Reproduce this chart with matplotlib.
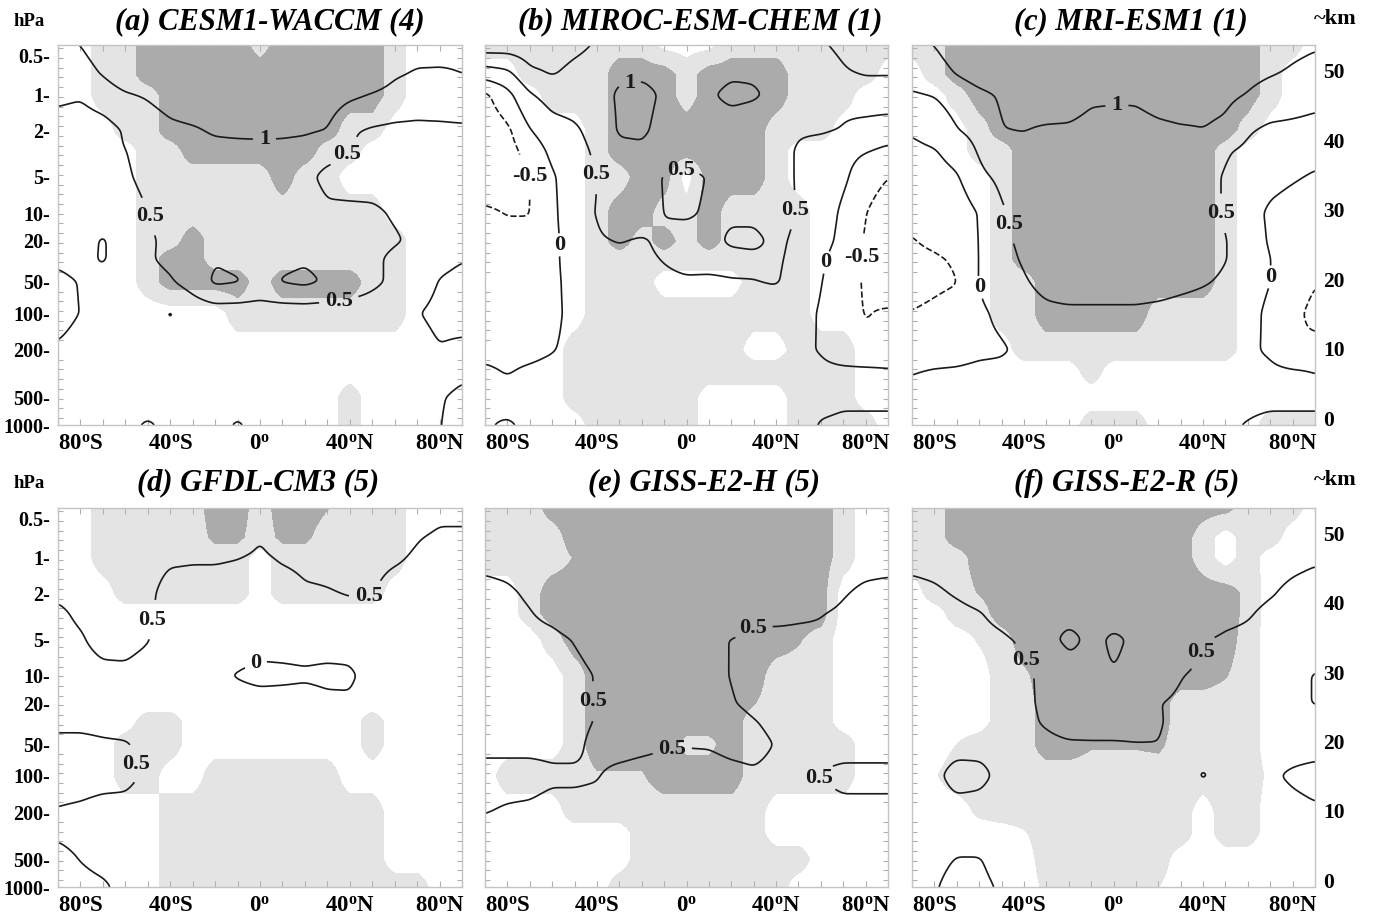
import numpy as np
import matplotlib
matplotlib.use("Agg")
import matplotlib.pyplot as plt
from matplotlib.ticker import MultipleLocator, FixedLocator

plt.rcParams['font.family'] = ['Liberation Serif', 'DejaVu Serif']
plt.rcParams['font.weight'] = 'bold'
plt.rcParams['mathtext.fontset'] = 'custom'
plt.rcParams['mathtext.rm'] = 'Liberation Serif:bold'
plt.rcParams['mathtext.it'] = 'Liberation Serif:bold'
plt.rcParams['mathtext.bf'] = 'Liberation Serif:bold'

# ---------------- grid -----------------
LATS = [-90, -80, -70, -60, -50, -40, -30, -20, -10, 0, 10, 20, 30, 40, 50, 60, 70, 80, 90]
LEVELS_HPA = [1000, 500, 300, 200, 100, 50, 30, 20, 10, 5, 3, 2, 1, 0.7, 0.4]

# approximate altitude (km) used for the vertical axis
ALT_HPA = [1000, 500, 200, 100, 50, 20, 10, 5, 2, 1, 0.5, 0.4]
ALT_KM = [-1.0, 3.0, 9.8, 15.1, 19.6, 25.5, 29.5, 34.7, 41.4, 46.5, 52.2, 54.1]

P_TICKS = [0.5, 1, 2, 5, 10, 20, 50, 100, 200, 500, 1000]
P_TICK_LABELS = ['0.5-', '1-', '2-', '5-', '10-', '20-', '50-', '100-', '200-', '500-', '1000-']
KM_TICKS = [0, 10, 20, 30, 40, 50]
LAT_TICKS = [-80, -40, 0, 40, 80]
LAT_LABELS = ['80$^{\\mathrm{o}}$S', '40$^{\\mathrm{o}}$S', '0$^{\\mathrm{o}}$',
              '40$^{\\mathrm{o}}$N', '80$^{\\mathrm{o}}$N']
LINE_LEVELS = [-0.5, 0, 0.5, 1.0]

TITLES = ["(a) CESM1-WACCM (4)", "(b) MIROC-ESM-CHEM (1)", "(c) MRI-ESM1 (1)",
          "(d) GFDL-CM3 (5)", "(e) GISS-E2-H (5)", "(f) GISS-E2-R (5)"]

# ---------------- panel (a) -----------------
A_LINES = [
    [0.1, 0.15, 0.15, 0.1, -0.05, 0.1, 0.15, 0.15, -0.05, 0.15, 0.15, 0.15, 0.15, 0.15, 0.15, 0.15, 0.1, 0.01, -0.1],
    [0.15, 0.2, 0.2, 0.2, 0.2, 0.2, 0.2, 0.2, 0.2, 0.2, 0.2, 0.2, 0.2, 0.2, 0.2, 0.15, 0.1, 0.02, -0.05],
    [0.15, 0.2, 0.2, 0.2, 0.2, 0.2, 0.2, 0.2, 0.2, 0.2, 0.2, 0.2, 0.2, 0.2, 0.2, 0.2, 0.15, 0.1, 0.05],
    [0.05, 0.15, 0.2, 0.2, 0.2, 0.2, 0.2, 0.2, 0.2, 0.2, 0.2, 0.2, 0.2, 0.2, 0.2, 0.2, 0.15, 0.02, 0.08],
    [-0.15, 0.01, 0.15, 0.2, 0.2, -0.05, 0.2, 0.25, 0.25, 0.25, 0.25, 0.25, 0.25, 0.25, 0.25, 0.2, 0.02, -0.1, -0.15],
    [-0.1, 0.02, 0.15, 0.25, 0.35, 0.45, 0.7, 1.08, 1.03, 0.85, 1.03, 1.1, 0.95, 0.8, 0.6, 0.4, 0.2, -0.02, -0.1],
    [0.08, 0.15, -0.05, 0.25, 0.45, 0.6, 0.8, 0.97, 0.9, 0.8, 0.9, 0.95, 0.85, 0.75, 0.6, 0.4, 0.2, 0.1, 0.02],
    [0.2, 0.2, -0.05, 0.25, 0.45, 0.58, 0.75, 0.8, 0.8, 0.8, 0.8, 0.8, 0.75, 0.7, 0.65, 0.55, 0.4, 0.3, 0.2],
    [0.25, 0.2, 0.2, 0.35, 0.49, 0.65, 0.75, 0.8, 0.8, 0.85, 0.85, 0.8, 0.6, 0.6, 0.58, 0.45, 0.35, 0.3, 0.3],
    [0.2, -0.03, 0.2, 0.45, 0.6, 0.75, 0.8, 0.85, 0.85, 0.9, 0.85, 0.65, 0.35, 0.3, 0.3, 0.3, 0.3, 0.3, 0.3],
    [0.25, 0.3, 0.42, 0.49, 0.65, 0.8, 0.85, 0.88, 0.88, 0.9, 0.88, 0.85, 0.7, 0.51, 0.35, 0.3, 0.3, 0.3, 0.3],
    [0.3, 0.25, 0.3, 0.55, 0.75, 0.9, 0.95, 1.05, 1.08, 1.08, 1.08, 1.05, 0.99, 0.55, 0.45, 0.4, 0.4, 0.38, 0.4],
    [0.6, 0.55, 0.75, 0.95, 1.05, 1.2, 1.3, 1.3, 1.3, 1.3, 1.3, 1.3, 1.25, 1.1, 0.97, 0.85, 0.75, 0.85, 0.9],
    [0.75, 0.85, 1.02, 1.3, 1.4, 1.5, 1.5, 1.5, 1.5, 1.5, 1.5, 1.5, 1.5, 1.4, 1.3, 1.05, 0.95, 0.97, 1.0],
    [0.9, 1.02, 1.2, 1.4, 1.5, 1.6, 1.6, 1.6, 1.6, 1.6, 1.6, 1.6, 1.6, 1.5, 1.4, 1.3, 1.2, 1.1, 1.05],
]
A_SHADE = [
    [0, 0, 0, 0, 0, 0, 0, 0, 0, 0, 0, 0, 0, 1, 0, 0, 0, 0, 0],
    [0, 0, 0, 0, 0, 0, 0, 0, 0, 0, 0, 0, 0, 1, 0, 0, 0, 0, 0],
    [0, 0, 0, 0, 0, 0, 0, 0, 0, 0, 0, 0, 0, 0, 0, 0, 0, 0, 0],
    [0, 0, 0, 0, 0, 0, 0, 0, 0, 0, 0, 0, 0, 0, 0, 0, 0, 0, 0],
    [0, 0, 0, 0, 0, 0, 0, 0, 1, 1, 1, 1, 1, 1, 1, 1, 0, 0, 0],
    [0, 0, 0, 0, 1, 2, 2, 2, 2, 1, 2, 2, 2, 2, 1, 1, 0, 0, 0],
    [0, 0, 0, 0, 1, 2, 2, 1, 1, 1, 1, 1, 1, 1, 1, 1, 0, 0, 0],
    [0, 0, 0, 0, 1, 1, 2, 1, 1, 1, 1, 1, 1, 1, 1, 1, 0, 0, 0],
    [0, 0, 0, 0, 1, 1, 1, 1, 1, 1, 1, 1, 1, 1, 1, 0, 0, 0, 0],
    [0, 0, 0, 0, 1, 1, 1, 1, 1, 1, 2, 1, 1, 0, 0, 0, 0, 0, 0],
    [0, 0, 0, 0, 1, 1, 2, 2, 2, 2, 2, 2, 1, 1, 0, 0, 0, 0, 0],
    [0, 0, 0, 1, 1, 2, 2, 2, 2, 2, 2, 2, 2, 1, 1, 0, 0, 0, 0],
    [0, 0, 1, 1, 1, 2, 2, 2, 2, 2, 2, 2, 2, 2, 2, 1, 0, 0, 0],
    [0, 0, 1, 1, 2, 2, 2, 2, 2, 2, 2, 2, 2, 2, 2, 1, 0, 0, 0],
    [0, 0, 1, 1, 2, 2, 2, 2, 2, 1, 2, 2, 2, 2, 2, 1, 0, 0, 0],
]

# ---------------- panel (b) -----------------
B_LINES = [
    [0.02, -0.03, 0.05, 0.05, 0.1, 0.1, 0.1, 0.1, 0.1, 0.1, 0.1, 0.1, 0.1, 0.1, 0.1, -0.02, -0.05, -0.05, -0.05],
    [0.05, 0.1, 0.1, 0.15, 0.15, 0.15, 0.15, 0.15, 0.15, 0.15, 0.15, 0.15, 0.15, 0.15, 0.1, 0.08, 0.05, 0.05, 0.05],
    [0.05, -0.02, 0.05, 0.1, 0.15, 0.2, 0.2, 0.2, 0.2, 0.2, 0.2, 0.2, 0.2, 0.15, 0.15, 0.1, 0.1, 0.1, 0.05],
    [-0.1, -0.12, -0.1, -0.02, 0.1, 0.2, 0.25, 0.25, 0.25, 0.25, 0.25, 0.2, 0.2, 0.15, 0.1, -0.03, -0.3, -0.45, -0.35],
    [-0.15, -0.2, -0.2, -0.1, 0.12, 0.25, 0.3, 0.3, 0.3, 0.3, 0.3, 0.3, 0.3, 0.25, 0.2, -0.05, -0.35, -0.52, -0.45],
    [-0.2, -0.25, -0.25, -0.1, 0.15, 0.3, 0.35, 0.38, 0.42, 0.45, 0.45, 0.48, 0.49, 0.53, 0.35, 0.02, -0.3, -0.55, -0.75],
    [-0.25, -0.3, -0.3, -0.1, 0.2, 0.35, 0.4, 0.42, 0.52, 0.62, 0.6, 0.6, 0.58, 0.55, 0.4, 0.08, -0.25, -0.55, -0.85],
    [-0.3, -0.35, -0.35, -0.1, 0.2, 0.45, 0.52, 0.45, 0.6, 0.65, 0.6, 0.45, 0.42, 0.58, 0.42, 0.2, -0.15, -0.55, -0.8],
    [-0.42, -0.52, -0.52, -0.1, 0.3, 0.52, 0.8, 0.8, 0.48, 0.45, 0.55, 0.55, 0.58, 0.65, 0.48, 0.3, -0.1, -0.49, -0.75],
    [-0.8, -0.75, -0.52, -0.05, 0.25, 0.49, 0.8, 0.85, 0.45, 0.4, 0.52, 0.8, 0.8, 0.7, 0.45, 0.3, 0.1, -0.3, -0.49],
    [-0.9, -0.7, -0.3, 0.12, 0.3, 0.6, 0.9, 0.95, 0.85, 0.7, 0.75, 0.8, 0.75, 0.7, 0.45, 0.3, 0.15, 0.03, -0.1],
    [-0.8, -0.6, -0.02, 0.3, 0.42, 0.7, 1.05, 1.05, 0.9, 0.8, 0.8, 0.8, 0.75, 0.65, 0.55, 0.55, 0.48, 0.35, 0.25],
    [-0.6, -0.15, 0.45, 0.7, 0.75, 0.85, 1.05, 1.1, 0.95, 0.8, 0.95, 1.1, 1.05, 0.9, 0.75, 0.6, 0.6, 0.75, 0.8],
    [0.2, 0.35, 0.9, 1.02, 0.9, 0.85, 0.95, 0.95, 0.9, 0.8, 0.85, 0.95, 0.95, 0.85, 0.8, 0.8, 0.95, 1.02, 1.01],
    [1.4, 1.35, 1.3, 1.2, 1.1, 0.98, 0.85, 0.8, 0.75, 0.7, 0.75, 0.8, 0.85, 0.9, 0.92, 0.97, 1.1, 1.3, 1.4],
]
B_SHADE = [
    [0, 0, 0, 0, 0, 1, 1, 1, 1, 1, 0, 0, 0, 0, 1, 1, 1, 1, 0],
    [0, 0, 0, 0, 1, 1, 1, 1, 1, 1, 0, 0, 0, 0, 1, 1, 1, 0, 0],
    [0, 0, 0, 0, 1, 1, 1, 1, 1, 1, 1, 1, 1, 1, 1, 1, 1, 0, 0],
    [0, 0, 0, 0, 1, 1, 1, 1, 1, 1, 1, 1, 0, 0, 1, 1, 1, 0, 0],
    [0, 0, 0, 0, 0, 1, 1, 1, 1, 1, 1, 1, 1, 1, 1, 0, 0, 0, 0],
    [0, 0, 0, 0, 0, 1, 1, 1, 0, 0, 0, 0, 1, 1, 1, 0, 0, 0, 0],
    [0, 0, 0, 0, 0, 1, 1, 1, 1, 1, 1, 1, 1, 1, 1, 0, 0, 0, 0],
    [0, 0, 0, 0, 0, 1, 2, 1, 2, 1, 2, 1, 1, 1, 1, 0, 0, 0, 0],
    [0, 0, 0, 0, 0, 1, 2, 2, 1, 1, 2, 1, 1, 1, 1, 0, 0, 0, 0],
    [0, 0, 0, 0, 0, 1, 1, 2, 2, 0, 2, 2, 2, 1, 0, 0, 0, 0, 0],
    [0, 0, 0, 0, 0, 1, 2, 2, 2, 2, 2, 2, 2, 1, 0, 0, 0, 0, 0],
    [0, 0, 0, 0, 0, 1, 2, 2, 2, 2, 2, 2, 2, 1, 1, 1, 0, 0, 0],
    [0, 0, 0, 1, 1, 1, 2, 2, 2, 1, 2, 2, 2, 2, 1, 1, 1, 0, 0],
    [0, 0, 1, 1, 1, 1, 2, 2, 2, 1, 2, 2, 2, 2, 1, 1, 1, 1, 0],
    [1, 1, 1, 1, 1, 1, 1, 1, 0, 0, 0, 1, 1, 1, 1, 1, 1, 1, 1],
]

# ---------------- panel (c) -----------------
C_LINES = [
    [0.05, 0.05, 0.05, 0.05, 0.05, 0.05, 0.05, 0.05, 0.05, 0.05, 0.05, 0.05, 0.05, 0.05, 0.05, -0.02, -0.1, -0.1, -0.1],
    [0.1, 0.1, 0.1, 0.1, 0.1, 0.1, 0.1, 0.1, 0.1, 0.1, 0.1, 0.1, 0.1, 0.1, 0.1, 0.1, 0.1, 0.1, 0.1],
    [-0.02, 0.03, 0.05, 0.1, 0.1, 0.2, 0.2, 0.2, 0.2, 0.2, 0.2, 0.2, 0.2, 0.2, 0.2, 0.15, 0.1, 0.05, -0.01],
    [-0.3, -0.25, -0.2, -0.1, -0.05, 0.1, 0.2, 0.2, 0.2, 0.2, 0.2, 0.2, 0.2, 0.2, 0.15, 0.1, -0.08, -0.51, -0.4],
    [-0.48, -0.4, -0.3, -0.08, 0.1, 0.3, 0.39, 0.39, 0.39, 0.39, 0.39, 0.35, 0.29, 0.25, 0.2, 0.15, -0.1, -0.4, -0.6],
    [-0.7, -0.6, -0.52, 0.03, 0.3, 0.45, 0.65, 0.8, 0.8, 0.8, 0.8, 0.75, 0.65, 0.55, 0.42, 0.2, 0.01, -0.3, -0.48],
    [-0.6, -0.55, -0.45, 0.02, 0.35, 0.55, 0.85, 0.85, 0.85, 0.85, 0.85, 0.85, 0.8, 0.7, 0.52, 0.25, 0.01, -0.3, -0.4],
    [-0.52, -0.42, -0.3, 0.01, 0.4, 0.6, 0.85, 0.85, 0.85, 0.85, 0.85, 0.85, 0.8, 0.7, 0.52, 0.25, -0.05, -0.3, -0.52],
    [-0.4, -0.35, -0.3, 0.03, 0.45, 0.65, 0.85, 0.85, 0.85, 0.85, 0.85, 0.85, 0.8, 0.7, 0.45, 0.2, -0.08, -0.2, -0.3],
    [-0.25, -0.2, -0.05, 0.4, 0.6, 0.85, 0.85, 0.85, 0.85, 0.85, 0.85, 0.85, 0.8, 0.7, 0.45, 0.3, 0.15, 0.05, -0.05],
    [-0.11, -0.03, 0.2, 0.55, 0.85, 0.88, 0.85, 0.85, 0.8, 0.78, 0.8, 0.82, 0.85, 0.85, 0.55, 0.4, 0.3, 0.25, 0.15],
    [0.05, 0.2, 0.48, 0.65, 0.99, 1.01, 0.94, 0.92, 0.82, 0.8, 0.82, 0.9, 0.95, 0.99, 0.91, 0.55, 0.4, 0.38, 0.35],
    [0.45, 0.52, 0.7, 0.9, 1.05, 1.2, 1.3, 1.3, 1.1, 1.08, 1.08, 1.2, 1.25, 1.15, 1.1, 0.98, 0.85, 0.75, 0.65],
    [0.7, 0.85, 1.01, 1.2, 1.3, 1.4, 1.4, 1.4, 1.4, 1.4, 1.4, 1.4, 1.4, 1.3, 1.2, 1.1, 1.02, 0.95, 0.88],
    [0.95, 1.02, 1.2, 1.4, 1.5, 1.5, 1.5, 1.5, 1.5, 1.5, 1.5, 1.5, 1.5, 1.5, 1.4, 1.3, 1.2, 1.1, 1.05],
]
C_SHADE = [
    [0, 0, 0, 0, 0, 0, 0, 0, 1, 1, 1, 0, 0, 0, 0, 0, 1, 1, 1],
    [0, 0, 0, 0, 0, 0, 0, 0, 0, 0, 0, 0, 0, 0, 0, 0, 0, 0, 0],
    [0, 0, 0, 0, 0, 0, 0, 0, 1, 0, 0, 0, 0, 0, 0, 0, 0, 0, 0],
    [0, 0, 0, 0, 0, 1, 1, 1, 1, 1, 1, 1, 1, 1, 1, 0, 0, 0, 0],
    [0, 0, 0, 0, 1, 1, 2, 2, 2, 2, 2, 1, 1, 1, 1, 0, 0, 0, 0],
    [0, 0, 0, 0, 1, 1, 2, 2, 2, 2, 2, 2, 2, 2, 1, 0, 0, 0, 0],
    [0, 0, 0, 0, 1, 2, 2, 2, 2, 2, 2, 2, 2, 2, 1, 0, 0, 0, 0],
    [0, 0, 0, 0, 1, 2, 2, 2, 2, 2, 2, 2, 2, 2, 1, 0, 0, 0, 0],
    [0, 0, 0, 0, 1, 2, 2, 2, 2, 2, 2, 2, 2, 2, 1, 0, 0, 0, 0],
    [0, 0, 0, 0, 1, 2, 2, 2, 2, 2, 2, 2, 2, 2, 1, 0, 0, 0, 0],
    [0, 0, 0, 1, 1, 2, 2, 2, 2, 2, 2, 2, 2, 2, 1, 0, 0, 0, 0],
    [0, 0, 0, 1, 2, 2, 2, 2, 2, 2, 2, 2, 2, 2, 2, 1, 0, 0, 0],
    [0, 0, 1, 2, 2, 2, 2, 2, 2, 2, 2, 2, 2, 2, 2, 2, 1, 0, 0],
    [0, 1, 2, 2, 2, 2, 2, 2, 2, 2, 2, 2, 2, 2, 2, 2, 1, 0, 0],
    [1, 1, 2, 2, 2, 2, 2, 2, 2, 2, 2, 2, 2, 2, 2, 2, 1, 1, 0],
]

# ---------------- panel (d) -----------------
D_LINES = [
    [0.6, 0.6, 0.55, 0.4, 0.3, 0.3, 0.3, 0.3, 0.3, 0.3, 0.3, 0.3, 0.3, 0.3, 0.3, 0.3, 0.3, 0.3, 0.3],
    [0.6, 0.49, 0.4, 0.35, 0.3, 0.3, 0.3, 0.3, 0.3, 0.3, 0.3, 0.3, 0.3, 0.3, 0.3, 0.3, 0.3, 0.3, 0.3],
    [0.45, 0.4, 0.35, 0.35, 0.3, 0.3, 0.3, 0.3, 0.3, 0.3, 0.3, 0.3, 0.3, 0.3, 0.3, 0.3, 0.3, 0.3, 0.3],
    [0.48, 0.45, 0.4, 0.4, 0.35, 0.3, 0.3, 0.3, 0.3, 0.3, 0.3, 0.3, 0.3, 0.3, 0.3, 0.3, 0.3, 0.3, 0.3],
    [0.62, 0.62, 0.6, 0.58, 0.45, 0.3, 0.3, 0.3, 0.3, 0.3, 0.3, 0.3, 0.3, 0.3, 0.3, 0.3, 0.3, 0.3, 0.3],
    [0.6, 0.6, 0.55, 0.53, 0.4, 0.3, 0.3, 0.3, 0.3, 0.3, 0.3, 0.3, 0.3, 0.3, 0.3, 0.3, 0.3, 0.3, 0.3],
    [0.4, 0.4, 0.38, 0.35, 0.3, 0.3, 0.3, 0.25, 0.25, 0.25, 0.25, 0.25, 0.25, 0.25, 0.3, 0.3, 0.3, 0.3, 0.3],
    [0.3, 0.3, 0.3, 0.3, 0.3, 0.3, 0.25, 0.2, 0.15, 0.15, 0.15, 0.15, 0.08, 0.05, 0.2, 0.3, 0.3, 0.3, 0.3],
    [0.35, 0.38, 0.42, 0.42, 0.35, 0.25, 0.15, 0.05, -0.02, -0.1, -0.08, -0.05, -0.08, -0.06, 0.15, 0.3, 0.3, 0.3, 0.3],
    [0.4, 0.47, 0.6, 0.62, 0.52, 0.3, 0.25, 0.2, 0.18, 0.15, 0.15, 0.15, 0.15, 0.15, 0.25, 0.3, 0.3, 0.3, 0.3],
    [0.45, 0.55, 0.6, 0.62, 0.56, 0.3, 0.25, 0.25, 0.25, 0.25, 0.25, 0.3, 0.35, 0.4, 0.4, 0.3, 0.3, 0.3, 0.3],
    [0.55, 0.6, 0.62, 0.63, 0.62, 0.3, 0.3, 0.3, 0.3, 0.3, 0.3, 0.45, 0.48, 0.52, 0.52, 0.35, 0.35, 0.35, 0.35],
    [0.62, 0.65, 0.68, 0.7, 0.7, 0.58, 0.55, 0.55, 0.51, 0.42, 0.55, 0.6, 0.6, 0.6, 0.6, 0.55, 0.45, 0.4, 0.4],
    [0.65, 0.65, 0.7, 0.7, 0.72, 0.75, 0.8, 0.8, 0.8, 0.52, 0.8, 0.8, 0.8, 0.75, 0.7, 0.65, 0.52, 0.45, 0.45],
    [0.7, 0.7, 0.75, 0.75, 0.8, 0.8, 0.85, 0.9, 0.9, 0.9, 0.9, 0.9, 0.85, 0.85, 0.8, 0.75, 0.7, 0.6, 0.6],
]
D_SHADE = [
    [0, 0, 0, 0, 0, 1, 1, 1, 1, 1, 1, 1, 1, 1, 1, 1, 1, 0, 0],
    [0, 0, 0, 0, 0, 1, 1, 1, 1, 1, 1, 1, 1, 1, 1, 0, 0, 0, 0],
    [0, 0, 0, 0, 0, 1, 1, 1, 1, 1, 1, 1, 1, 1, 1, 0, 0, 0, 0],
    [0, 0, 0, 0, 0, 1, 1, 1, 1, 1, 1, 1, 1, 1, 1, 0, 0, 0, 0],
    [0, 0, 0, 1, 1, 0, 0, 1, 1, 1, 1, 1, 1, 0, 0, 0, 0, 0, 0],
    [0, 0, 0, 1, 1, 1, 0, 0, 0, 0, 0, 0, 0, 0, 1, 0, 0, 0, 0],
    [0, 0, 0, 0, 1, 1, 0, 0, 0, 0, 0, 0, 0, 0, 1, 0, 0, 0, 0],
    [0, 0, 0, 0, 0, 0, 0, 0, 0, 0, 0, 0, 0, 0, 0, 0, 0, 0, 0],
    [0, 0, 0, 0, 0, 0, 0, 0, 0, 0, 0, 0, 0, 0, 0, 0, 0, 0, 0],
    [0, 0, 0, 0, 0, 0, 0, 0, 0, 0, 0, 0, 0, 0, 0, 0, 0, 0, 0],
    [0, 0, 0, 0, 0, 0, 0, 0, 0, 0, 0, 0, 0, 0, 0, 0, 0, 0, 0],
    [0, 0, 0, 1, 1, 1, 1, 1, 1, 0, 1, 1, 1, 1, 1, 0, 0, 0, 0],
    [0, 0, 1, 1, 1, 1, 1, 1, 1, 0, 1, 1, 1, 1, 1, 1, 0, 0, 0],
    [0, 0, 1, 1, 1, 1, 1, 1.7, 1.7, 1, 1.7, 1.7, 1, 1, 1, 1, 0, 0, 0],
    [0, 0, 1, 1, 1, 1, 1, 2, 2, 1, 2, 2, 1.6, 1, 1, 1, 0, 0, 0],
]

# ---------------- panel (e) -----------------
E_LINES = [
    [0.25, 0.25, 0.25, 0.25, 0.25, 0.25, 0.25, 0.25, 0.25, 0.25, 0.25, 0.25, 0.25, 0.25, 0.25, 0.25, 0.25, 0.25, 0.25],
    [0.3, 0.3, 0.3, 0.3, 0.3, 0.3, 0.3, 0.3, 0.3, 0.3, 0.3, 0.3, 0.3, 0.3, 0.3, 0.3, 0.3, 0.3, 0.3],
    [0.4, 0.35, 0.3, 0.3, 0.3, 0.3, 0.3, 0.3, 0.3, 0.3, 0.3, 0.3, 0.3, 0.3, 0.3, 0.3, 0.3, 0.3, 0.3],
    [0.51, 0.47, 0.45, 0.4, 0.4, 0.4, 0.35, 0.3, 0.3, 0.3, 0.3, 0.3, 0.3, 0.3, 0.3, 0.35, 0.4, 0.4, 0.4],
    [0.6, 0.6, 0.6, 0.55, 0.55, 0.52, 0.4, 0.35, 0.35, 0.35, 0.35, 0.4, 0.45, 0.4, 0.42, 0.52, 0.6, 0.6, 0.6],
    [0.42, 0.42, 0.42, 0.42, 0.42, 0.6, 0.65, 0.6, 0.53, 0.52, 0.53, 0.6, 0.62, 0.48, 0.4, 0.35, 0.35, 0.35, 0.35],
    [0.3, 0.3, 0.3, 0.3, 0.4, 0.52, 0.8, 0.8, 0.8, 0.8, 0.75, 0.65, 0.52, 0.4, 0.3, 0.3, 0.3, 0.3, 0.3],
    [0.3, 0.3, 0.3, 0.3, 0.4, 0.52, 0.8, 0.85, 0.85, 0.85, 0.7, 0.53, 0.4, 0.3, 0.3, 0.3, 0.3, 0.3, 0.3],
    [0.3, 0.3, 0.32, 0.35, 0.4, 0.52, 0.8, 0.85, 0.85, 0.85, 0.65, 0.48, 0.35, 0.3, 0.3, 0.3, 0.3, 0.3, 0.3],
    [0.35, 0.35, 0.38, 0.4, 0.52, 0.65, 0.8, 0.85, 0.85, 0.85, 0.65, 0.48, 0.4, 0.4, 0.42, 0.45, 0.45, 0.4, 0.35],
    [0.35, 0.4, 0.48, 0.6, 0.75, 0.85, 0.9, 0.9, 0.9, 0.9, 0.9, 0.9, 0.6, 0.6, 0.55, 0.51, 0.45, 0.4, 0.35],
    [0.4, 0.45, 0.55, 0.7, 0.8, 0.9, 0.9, 0.9, 0.9, 0.9, 0.9, 0.9, 0.9, 0.85, 0.75, 0.65, 0.52, 0.45, 0.42],
    [0.6, 0.62, 0.68, 0.75, 0.85, 0.9, 0.9, 0.9, 0.9, 0.9, 0.9, 0.9, 0.9, 0.85, 0.75, 0.65, 0.62, 0.6, 0.6],
    [0.65, 0.68, 0.72, 0.78, 0.85, 0.9, 0.9, 0.9, 0.9, 0.9, 0.9, 0.9, 0.9, 0.85, 0.8, 0.75, 0.7, 0.65, 0.65],
    [0.7, 0.72, 0.75, 0.8, 0.85, 0.9, 0.9, 0.9, 0.9, 0.9, 0.9, 0.9, 0.9, 0.85, 0.8, 0.75, 0.7, 0.7, 0.7],
]
E_SHADE = [
    [0, 0, 0, 0, 0, 0, 1, 1, 1, 1, 1, 1, 1, 1, 0, 0, 0, 0, 0],
    [0, 0, 0, 0, 0, 0, 0, 1, 1, 1, 1, 1, 1, 1, 1, 0, 0, 0, 0],
    [0, 0, 0, 0, 0, 0, 0, 1, 1, 1, 1, 1, 1, 0, 0, 0, 0, 0, 0],
    [0, 0, 0, 0, 1, 1, 1, 1, 1, 1, 1, 1, 1, 0, 0, 0, 0, 0, 0],
    [0, 1, 1, 1, 1, 1.4, 1.4, 1.4, 2, 2, 2, 2, 1, 1, 1, 1, 1, 0, 0],
    [0, 0, 0, 0, 1, 2, 2, 2, 2, 1.2, 1.2, 2, 1, 1, 1, 1, 1, 0, 0],
    [0, 0, 0, 0, 1, 2, 2, 2, 2, 2, 2, 2, 1, 1, 1, 1, 0, 0, 0],
    [0, 0, 0, 0, 1, 2, 2, 2, 2, 2, 2, 2, 1.55, 1, 1, 1, 0, 0, 0],
    [0, 0, 0, 0, 1, 2, 2, 2, 2, 2, 2, 2, 2, 1, 1, 1, 0, 0, 0],
    [0, 0, 0, 1, 2, 2, 2, 2, 2, 2, 2, 2, 2, 2, 1.6, 1, 0, 0, 0],
    [0, 0, 1, 2, 2, 2, 2, 2, 2, 2, 2, 2, 2, 2, 2, 2, 0, 0, 0],
    [0, 0, 1, 2, 2, 2, 2, 2, 2, 2, 2, 2, 2, 2, 2, 2, 0, 0, 0],
    [1, 1, 1, 1, 1.55, 2, 2, 2, 2, 2, 2, 2, 2, 2, 2, 2, 1, 0, 0],
    [1, 1, 1, 1, 2, 2, 2, 2, 2, 2, 2, 2, 2, 2, 2, 2, 1, 0, 0],
    [1, 1, 1, 2, 2, 2, 2, 2, 2, 2, 2, 2, 2, 2, 2, 2, 1, 0, 0],
]

# ---------------- panel (f) -----------------
F_LINES = [
    [0.35, 0.45, 0.7, 0.6, 0.45, 0.3, 0.3, 0.3, 0.3, 0.3, 0.3, 0.3, 0.3, 0.3, 0.3, 0.3, 0.3, 0.3, 0.3],
    [0.3, 0.35, 0.52, 0.52, 0.35, 0.3, 0.3, 0.3, 0.3, 0.3, 0.3, 0.3, 0.3, 0.3, 0.3, 0.3, 0.3, 0.3, 0.3],
    [0.3, 0.3, 0.3, 0.3, 0.3, 0.3, 0.3, 0.3, 0.3, 0.3, 0.3, 0.3, 0.3, 0.3, 0.3, 0.3, 0.3, 0.3, 0.3],
    [0.3, 0.32, 0.35, 0.35, 0.35, 0.3, 0.3, 0.3, 0.3, 0.3, 0.3, 0.3, 0.3, 0.3, 0.3, 0.3, 0.35, 0.4, 0.45],
    [0.35, 0.4, 0.65, 0.6, 0.4, 0.35, 0.35, 0.35, 0.35, 0.35, 0.35, 0.35, 0.38, 0.53, 0.4, 0.4, 0.45, 0.55, 0.62],
    [0.3, 0.32, 0.35, 0.38, 0.4, 0.4, 0.4, 0.45, 0.45, 0.45, 0.48, 0.495, 0.4, 0.38, 0.35, 0.35, 0.35, 0.35, 0.35],
    [0.3, 0.3, 0.3, 0.3, 0.35, 0.4, 0.55, 0.7, 0.75, 0.75, 0.7, 0.53, 0.4, 0.35, 0.3, 0.3, 0.3, 0.35, 0.35],
    [0.3, 0.3, 0.3, 0.32, 0.35, 0.42, 0.58, 0.75, 0.8, 0.8, 0.75, 0.52, 0.4, 0.35, 0.32, 0.3, 0.3, 0.4, 0.52],
    [0.3, 0.3, 0.32, 0.35, 0.38, 0.42, 0.6, 0.85, 0.93, 0.99, 0.93, 0.8, 0.52, 0.4, 0.38, 0.35, 0.32, 0.4, 0.52],
    [0.3, 0.32, 0.35, 0.4, 0.45, 0.55, 0.9, 1.08, 0.93, 1.04, 0.96, 0.9, 0.8, 0.52, 0.45, 0.42, 0.38, 0.35, 0.3],
    [0.35, 0.38, 0.42, 0.48, 0.6, 0.75, 0.88, 0.9, 0.9, 0.9, 0.9, 0.9, 0.85, 0.75, 0.6, 0.53, 0.42, 0.38, 0.35],
    [0.4, 0.45, 0.53, 0.62, 0.7, 0.8, 0.88, 0.9, 0.9, 0.9, 0.9, 0.9, 0.88, 0.8, 0.72, 0.62, 0.53, 0.42, 0.35],
    [0.6, 0.62, 0.68, 0.75, 0.8, 0.85, 0.88, 0.88, 0.88, 0.88, 0.88, 0.88, 0.88, 0.85, 0.8, 0.72, 0.65, 0.6, 0.55],
    [0.65, 0.68, 0.72, 0.78, 0.82, 0.85, 0.85, 0.85, 0.85, 0.85, 0.85, 0.85, 0.85, 0.85, 0.82, 0.78, 0.72, 0.68, 0.65],
    [0.7, 0.72, 0.75, 0.8, 0.85, 0.85, 0.85, 0.85, 0.85, 0.85, 0.85, 0.85, 0.85, 0.85, 0.85, 0.8, 0.75, 0.72, 0.7],
]
F_SHADE = [
    [0, 0, 0, 0, 0, 0, 0.7, 1, 1, 1, 1, 0.5, 0, 0, 0, 0, 0, 0, 0],
    [0, 0, 0, 0, 0, 0, 1, 1, 1, 1, 1, 1, 0, 0, 0, 0, 0, 0, 0],
    [0, 0, 0, 0, 0, 0.4, 1, 1, 1, 1, 1, 1, 1, 0, 1, 1, 0, 0, 0],
    [0, 0, 0, 0.7, 1, 1, 1, 1, 1, 1, 1, 1, 1, 0, 1, 1, 0, 0, 0],
    [0, 0.4, 1, 1, 1, 1, 1, 1, 1, 1, 1, 1, 1, 1, 1, 1, 0.3, 0, 0],
    [0, 0, 0.5, 1, 1, 1, 2, 2, 1.6, 1.6, 1.6, 1.7, 1, 1, 1, 1, 0, 0, 0],
    [0, 0, 0, 0, 1, 1, 2, 2, 2, 2, 2, 2, 1, 1, 1, 1, 0, 0, 0],
    [0, 0, 0, 0, 1, 1, 2, 2, 2, 2, 2, 2, 1, 1, 1, 1, 0, 0, 0],
    [0, 0, 0, 0, 1, 1.3, 2, 2, 2, 2, 2, 2, 2, 2, 1.55, 1, 0, 0, 0],
    [0, 0, 0, 0.6, 1, 2, 2, 2, 2, 2, 2, 2, 2, 2, 2, 1, 0, 0, 0],
    [0, 0, 1, 1, 2, 2, 2, 2, 2, 2, 2, 2, 2, 2, 2, 1.2, 0, 0, 0],
    [0, 1, 1, 1.55, 2, 2, 2, 2, 2, 2, 2, 2, 2, 2, 2, 1.2, 0, 0, 0],
    [1, 1, 1, 2, 2, 2, 2, 2, 2, 2, 2, 2, 2, 1, 0, 1, 0, 0, 0],
    [1, 1, 2, 2, 2, 2, 2, 2, 2, 2, 2, 2, 2, 1, 0, 1, 1, 0, 0],
    [1, 1, 2, 2, 2, 2, 2, 2, 2, 2, 2, 2, 2, 2, 2, 1, 1, 1, 0],
]

PANELS = [(A_LINES, A_SHADE), (B_LINES, B_SHADE), (C_LINES, C_SHADE),
          (D_LINES, D_SHADE), (E_LINES, E_SHADE), (F_LINES, F_SHADE)]

LIGHT = '#e4e4e4'
DARK = '#ababab'


def alt_km(p):
    return np.interp(-np.log10(np.asarray(p, float)), -np.log10(ALT_HPA), ALT_KM)


def regrid(field, lat_f, z_f):
    F = np.asarray(field, float)
    zc = alt_km(LEVELS_HPA)
    tmp = np.array([np.interp(lat_f, LATS, row) for row in F])
    out = np.array([np.interp(z_f, zc, tmp[:, j]) for j in range(tmp.shape[1])]).T
    return out


def smooth(F, sx, sz):
    def kern(s):
        r = int(3 * s) + 1
        x = np.arange(-r, r + 1)
        w = np.exp(-0.5 * (x / s) ** 2)
        return w / w.sum(), r
    kx, rx = kern(sx)
    P = np.pad(F, ((0, 0), (rx, rx)), mode='edge')
    F = np.array([np.convolve(row, kx, mode='valid') for row in P])
    kz, rz = kern(sz)
    P = np.pad(F, ((rz, rz), (0, 0)), mode='edge')
    F = np.array([np.convolve(col, kz, mode='valid') for col in P.T]).T
    return F


def fmt(v):
    if abs(v) < 1e-9:
        return '0'
    if abs(v - 1) < 1e-9:
        return '1'
    return ('%.1f' % v)


def label_spots(cs, ax, min_len, spacing):
    """labels spread along every contour piece longer than min_len px"""
    bb = ax.get_window_extent()
    spots = []
    for path in cs.get_paths():
        for poly in path.to_polygons(closed_only=False):
            if len(poly) < 3:
                continue
            d = ax.transData.transform(poly)
            seg = np.hypot(*np.diff(d, axis=0).T)
            total = seg.sum()
            if total < min_len:
                continue
            cum = np.concatenate([[0.0], np.cumsum(seg)])
            n = max(1, int(total / spacing))
            for j in range(n):
                target = (j + 0.5) / n * total
                best = None
                for shift in [0, 20, -20, 40, -40, 60, -60, 80, -80]:
                    t = min(max(target + shift, 0), total)
                    k = int(np.clip(np.searchsorted(cum, t), 0, len(poly) - 1))
                    px, py = d[k]
                    if (px - bb.x0 > 16 and bb.x1 - px > 16 and
                            py - bb.y0 > 12 and bb.y1 - py > 12):
                        best = k
                        break
                if best is not None:
                    spots.append((float(poly[best][0]), float(poly[best][1])))
    return spots


W, H = 1380, 921
fig = plt.figure(figsize=(W / 100, H / 100), dpi=100)
fig.patch.set_facecolor('white')

AX_X = [(58, 462), (485, 888), (912, 1315)]
AX_Y = [(45, 425), (508, 887)]
TITLE_X = [270, 700, 1131, 258, 704, 1127]
TITLE_Y = [22, 483]

lat_f = np.linspace(-90, 90, 361)
z_lo, z_hi = alt_km(1000), alt_km(0.4)
z_f = np.linspace(float(z_lo), float(z_hi), 441)
ytop = 53.67

for i, (lines, shade) in enumerate(PANELS):
    r, c = divmod(i, 3)
    x0, x1 = AX_X[c]
    y0, y1 = AX_Y[r]
    ax = fig.add_axes([x0 / W, 1 - y1 / H, (x1 - x0) / W, (y1 - y0) / H])
    ax.set_xlim(-90, 90)
    ax.set_ylim(float(z_lo), ytop)

    S = regrid(shade, lat_f, z_f)
    L = smooth(regrid(lines, lat_f, z_f), 3.0, 3.0)

    ax.contourf(lat_f, z_f, S, levels=[0.5, 1.5, 2.5], colors=[LIGHT, DARK], zorder=1)
    cs = ax.contour(lat_f, z_f, L, levels=LINE_LEVELS, colors='#1a1a1a',
                    linewidths=1.2, zorder=2)
    spots = label_spots(cs, ax, 125, 250)
    if spots:
        texts = ax.clabel(cs, inline=True, fmt=fmt, fontsize=16, inline_spacing=6,
                          manual=spots)
        for t in texts:
            t.set_rotation(0)

    for sp in ax.spines.values():
        sp.set_color('#c4c4c4')
        sp.set_linewidth(1.0)

    ax.xaxis.set_major_locator(FixedLocator(LAT_TICKS))
    ax.set_xticklabels(LAT_LABELS, fontsize=16.5, fontweight='bold')
    ax.xaxis.set_minor_locator(MultipleLocator(10))
    ax.yaxis.set_major_locator(FixedLocator(list(alt_km(P_TICKS))))
    ax.yaxis.set_minor_locator(MultipleLocator(1.4))
    if c == 0:
        ax.set_yticklabels(P_TICK_LABELS, fontsize=14.5, fontweight='bold')
    else:
        ax.set_yticklabels([])
    ax.tick_params(axis='x', which='major', direction='in', length=4, width=0.8,
                   color='#b0b0b0', top=True, pad=6)
    ax.tick_params(axis='x', which='minor', direction='in', length=4, width=0.8,
                   color='#b0b0b0', top=True)
    ax.tick_params(axis='y', which='major', direction='in', length=0, pad=6,
                   right=True)
    ax.tick_params(axis='y', which='minor', direction='in', length=3.5, width=0.8,
                   color='#b0b0b0', right=True)

    if c == 2:
        ax2 = ax.twinx()
        ax2.set_ylim(float(z_lo), ytop)
        ax2.yaxis.set_major_locator(FixedLocator(KM_TICKS))
        ax2.set_yticklabels([str(k) for k in KM_TICKS], fontsize=15.5, fontweight='bold')
        ax2.tick_params(axis='y', which='major', direction='in', length=0, pad=6)
        for sp in ax2.spines.values():
            sp.set_visible(False)

    fig.text(TITLE_X[i] / W, 1 - TITLE_Y[r] / H, TITLES[i], ha='center', va='center',
             fontsize=22, fontweight='bold', style='italic')

for r in range(2):
    fig.text(29 / W, 1 - (TITLE_Y[r]) / H, 'hPa', ha='center', va='center',
             fontsize=13.5, fontweight='bold')
    fig.text(1335 / W, 1 - (TITLE_Y[r] - 3) / H, '~km', ha='center', va='center',
             fontsize=16, fontweight='bold')

fig.savefig('out.png', dpi=100, facecolor='white')
